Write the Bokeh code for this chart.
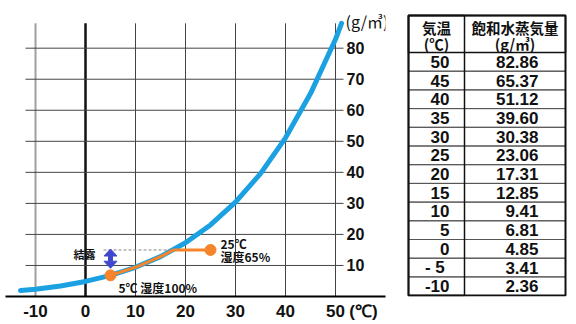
from bokeh.plotting import figure
from bokeh.layouts import row
from bokeh.models import Range1d, LinearAxis, FixedTicker, Label
from bokeh.core.properties import value
from bokeh.embed import file_html
from bokeh.resources import INLINE

# ---- data ----
temps = [-10, -5, 0, 5, 10, 15, 20, 25, 30, 35, 40, 45, 50]
vapor = [2.36, 3.41, 4.85, 6.81, 9.41, 12.85, 17.31, 23.06, 30.38, 39.60, 51.12, 65.37, 82.86]
curve_start_t, curve_start_v = -13, 1.9
curve_end_t, curve_end_v = 51.2, 88       # (top of plot)

path_t = [5, 10, 15, 17.6, 25]
path_v = [6.81, 9.41, 12.85, 14.99, 14.99]
dot_t = [5, 25]
dot_v = [6.81, 14.99]

# condensation arrow (temperature, lower / upper tip)
arrow_t = 5
arrow_lo, arrow_hi = 9.1, 15.3

x_ticks = [-10, 0, 10, 20, 30, 40, 50]
y_ticks = [10, 20, 30, 40, 50, 60, 70, 80]
x_unit_pos = 55.6
x_unit_label = "(℃)"
y_unit_label = "(g/㎥)"

table_temp_labels = ["50", "45", "40", "35", "30", "25", "20", "15", "10", "5", "0", "-  5", "-10"]
table_vapor_labels = ["82.86", "65.37", "51.12", "39.60", "30.38", "23.06", "17.31",
                      "12.85", "9.41", "6.81", "4.85", "3.41", "2.36"]

BLUE = "#1BA1E2"
ORANGE = "#F5842A"
ARROW = "#3F48CC"
JP = "Noto Sans CJK JP"
NUM = "Liberation Sans"

GRID_TOP = 88
FRAME_H = 296          # pixel height of the plotting area (shared by both panels)
PX_PER_Y = 3.104
PX_PER_X = 5.0

# ---- chart ----
p = figure(width=400, height=324, x_range=Range1d(-16, 60), y_range=Range1d(0, FRAME_H / PX_PER_Y),
           output_backend="svg", toolbar_location=None, title=None,
           x_axis_location=None, y_axis_location=None,
           min_border_left=5, min_border_right=15, min_border_top=0,
           min_border_bottom=324 - FRAME_H)
p.outline_line_color = None
p.xgrid.visible = False
p.ygrid.visible = False

xaxis = LinearAxis(ticker=FixedTicker(ticks=x_ticks + [x_unit_pos]),
                   axis_line_color="black", axis_line_width=2,
                   major_tick_in=0, major_tick_out=0,
                   major_tick_line_color=None, minor_tick_line_color=None,
                   major_label_text_font=NUM, major_label_text_font_style="bold",
                   major_label_text_font_size="17px", major_label_text_color="#111",
                   major_label_standoff=5,
                   major_label_overrides={-10: "-10", x_unit_pos: x_unit_label})
p.add_layout(xaxis, "below")

yaxis = LinearAxis(ticker=FixedTicker(ticks=y_ticks),
                   axis_line_color=None,
                   major_tick_in=0, major_tick_out=0,
                   major_tick_line_color=None, minor_tick_line_color=None,
                   major_label_text_font=NUM, major_label_text_font_style="bold",
                   major_label_text_font_size="16px", major_label_text_color="#111",
                   major_label_standoff=-39)
p.add_layout(yaxis, "right")

# grid lines
p.segment(x0=[t for t in x_ticks if t > 0], y0=0, x1=[t for t in x_ticks if t > 0], y1=GRID_TOP,
          line_color="#444444", line_width=1)
p.segment(x0=[x_ticks[0]], y0=0, x1=[x_ticks[0]], y1=GRID_TOP, line_color="#a0a0a0", line_width=2)
p.segment(x0=[x_ticks[1]], y0=0, x1=[x_ticks[1]], y1=GRID_TOP, line_color="#111111", line_width=2.5)
p.segment(x0=-12, y0=y_ticks, x1=51.6, y1=y_ticks, line_color="#444444", line_width=1)

# saturation curve
p.line([curve_start_t] + temps + [curve_end_t], [curve_start_v] + vapor + [curve_end_v],
       line_color=BLUE, line_width=5, line_join="round", line_cap="round")

# dew line (dashed)
p.segment(x0=3.6, y0=path_v[-1], x1=path_t[3], y1=path_v[-1],
          line_color="#888888", line_width=1, line_dash="3 2")

# orange path
p.line(path_t, path_v, line_color=ORANGE, line_width=3)
p.scatter(dot_t, dot_v, size=11, color=ORANGE)

# double arrow: shaft + two wide flat heads (13 px wide, 7 px tall)
hw = 6.5 / PX_PER_X
hh = 7.0 / PX_PER_Y
p.segment(x0=[arrow_t], y0=[arrow_lo + hh], x1=[arrow_t], y1=[arrow_hi - hh],
          line_color=ARROW, line_width=5)
p.patches(xs=[[arrow_t - hw, arrow_t + hw, arrow_t], [arrow_t - hw, arrow_t + hw, arrow_t]],
          ys=[[arrow_hi - hh, arrow_hi - hh, arrow_hi], [arrow_lo + hh, arrow_lo + hh, arrow_lo]],
          fill_color=ARROW, line_color=ARROW, line_width=1)

p.add_layout(Label(x=2.0, y=13.6, text="結露", text_align="right", text_baseline="middle",
                   text_font=JP, text_font_size="11px", text_font_style="bold", text_color="#111"))
p.add_layout(Label(x=6.6, y=2.9, text="5℃ 湿度100%", text_align="left", text_baseline="middle",
                   text_font=JP, text_font_size="12px", text_font_style="bold", text_color="#111"))
p.add_layout(Label(x=27.0, y=17.2, text="25℃", text_align="left", text_baseline="middle",
                   text_font=JP, text_font_size="12px", text_font_style="bold", text_color="#111"))
p.add_layout(Label(x=27.0, y=12.9, text="湿度65%", text_align="left", text_baseline="middle",
                   text_font=JP, text_font_size="12px", text_font_style="bold", text_color="#111"))
p.add_layout(Label(x=52.0, y=88.6, text=y_unit_label, text_align="left", text_baseline="middle",
                   text_font=JP, text_font_size="16px", text_color="#111"))

# ---- table (data units = pixels, y downward) ----
t = figure(width=176, height=324, x_range=Range1d(0, 176), y_range=Range1d(FRAME_H, 0),
           output_backend="svg", toolbar_location=None, title=None,
           x_axis_location=None, y_axis_location=None,
           min_border_left=0, min_border_right=0, min_border_top=0,
           min_border_bottom=324 - FRAME_H)
t.outline_line_color = None
t.xgrid.visible = False
t.ygrid.visible = False

left, mid, right = 8, 64, 165
top, head_bottom, row_h = 15, 52, 18.7
n = len(table_temp_labels)
bottom = head_bottom + n * row_h
row_tops = [head_bottom + i * row_h for i in range(n)]
row_bottoms = [head_bottom + (i + 1) * row_h for i in range(n)]
centers = [head_bottom + (i + 0.5) * row_h for i in range(n)]

t.quad(left=left, right=right, top=row_tops, bottom=row_bottoms, fill_color=None,
       line_color="#555555", line_width=1)
t.quad(left=[left], right=[right], top=[top], bottom=[head_bottom], fill_color=None,
       line_color="#111111", line_width=1.5)
t.quad(left=[left], right=[mid], top=[top], bottom=[bottom], fill_color=None,
       line_color="#111111", line_width=1.5)
t.quad(left=[left], right=[right], top=[top], bottom=[bottom], fill_color=None,
       line_color="#111111", line_width=2)

t.text(x=[36, 36], y=[27, 43], text=["気温", "(℃)"], text_font=value(JP),
       text_font_style="bold", text_font_size="14.5px", text_align="center",
       text_baseline="middle", text_color="#111")
t.text(x=[114.5, 114.5], y=[27, 43], text=["飽和水蒸気量", "(g/㎥)"], text_font=value(JP),
       text_font_style="bold", text_font_size="14.5px", text_align="center",
       text_baseline="middle", text_color="#111")
t.text(x=49, y=centers, text=table_temp_labels, text_font=value(NUM),
       text_font_style="bold", text_font_size="17px", text_align="right",
       text_baseline="middle", text_color="#111")
t.text(x=138, y=centers, text=table_vapor_labels, text_font=value(NUM),
       text_font_style="bold", text_font_size="17px", text_align="right",
       text_baseline="middle", text_color="#111")

layout = row(p, t)
open("out.html", "w").write(file_html(layout, INLINE))
